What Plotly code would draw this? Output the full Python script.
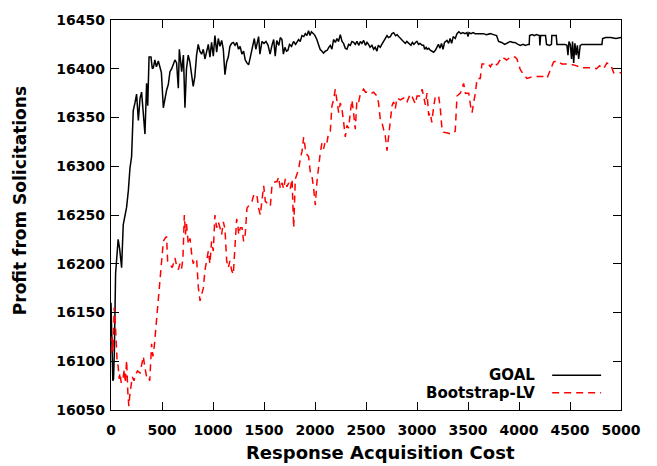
import plotly.graph_objects as go

# GOAL curve: profit vs. response acquisition cost
goal_cost = [0, 10, 18, 25, 33, 45, 59, 70, 85, 104, 120, 140, 153, 170, 186, 202, 218, 235, 251, 268,
             285, 300, 318, 333, 349, 360, 373, 392, 405, 415, 430, 445, 464, 480, 494, 513, 530, 545, 562, 578,
             595, 611, 627, 643, 660, 670, 685, 693, 710, 725, 740, 757, 773, 790, 806, 822, 839, 855, 871, 888,
             905, 921, 937, 954, 970, 986, 1003, 1019, 1036, 1052, 1068, 1085, 1101, 1117, 1134, 1150, 1166, 1183, 1199, 1216,
             1233, 1250, 1266, 1283, 1300, 1316, 1333, 1349, 1366, 1382, 1405, 1420, 1435, 1447, 1460, 1480, 1500, 1520, 1540, 1560,
             1578, 1595, 1610, 1625, 1645, 1660, 1676, 1690, 1705, 1720, 1735, 1750, 1770, 1790, 1810, 1839, 1855, 1872, 1890, 1905,
             1920, 1937, 1950, 1965, 1985, 2000, 2018, 2035, 2050, 2068, 2084, 2100, 2120, 2135, 2150, 2166, 2182, 2200, 2215, 2230,
             2248, 2265, 2280, 2297, 2313, 2330, 2346, 2362, 2379, 2395, 2411, 2430, 2445, 2460, 2477, 2495, 2510, 2525, 2540, 2558,
             2575, 2590, 2607, 2620, 2640, 2655, 2672, 2690, 2706, 2720, 2738, 2755, 2771, 2790, 2805, 2820, 2840, 2855, 2869, 2885,
             2900, 2920, 2940, 2955, 2970, 2985, 2999, 3015, 3030, 3050, 3065, 3075, 3090, 3100, 3115, 3130, 3145, 3163, 3180, 3195,
             3210, 3225, 3240, 3255, 3270, 3294, 3310, 3325, 3340, 3355, 3375, 3392, 3410, 3430, 3450, 3470, 3490, 3500, 3510, 3530,
             3550, 3570, 3600, 3621, 3650, 3680, 3719, 3750, 3780, 3800, 3830, 3860, 3880, 3915, 3940, 3960, 3990, 4013, 4040, 4062,
             4090, 4100, 4104, 4130, 4150, 4170, 4200, 4205, 4212, 4240, 4260, 4270, 4300, 4318, 4322, 4345, 4365, 4372, 4400, 4430,
             4450, 4470, 4480, 4490, 4503, 4515, 4525, 4536, 4548, 4560, 4572, 4585, 4600, 4617, 4650, 4700, 4750, 4790, 4813, 4820,
             4850, 4900, 4950, 5000]
goal_profit = [16160, 16120, 16080, 16082, 16110, 16190, 16210, 16225, 16215, 16196, 16240, 16252, 16258, 16275, 16298, 16310, 16357, 16365, 16374, 16347,
               16370, 16376, 16350, 16333, 16385, 16362, 16412, 16412, 16400, 16401, 16409, 16402, 16408, 16400, 16396, 16360, 16372, 16378, 16384, 16397,
               16400, 16404, 16409, 16406, 16380, 16420, 16405, 16397, 16414, 16360, 16400, 16414, 16407, 16392, 16382, 16392, 16414, 16425, 16418, 16415,
               16420, 16410, 16418, 16425, 16412, 16427, 16413, 16434, 16417, 16431, 16423, 16429, 16420, 16394, 16407, 16412, 16423, 16426, 16427, 16424,
               16427, 16420, 16423, 16415, 16418, 16409, 16406, 16404, 16412, 16420, 16431, 16420, 16428, 16433, 16415, 16428, 16426, 16428, 16424, 16415,
               16424, 16430, 16413, 16429, 16424, 16432, 16430, 16415, 16422, 16418, 16419, 16425, 16423, 16428, 16425, 16430, 16428, 16434, 16433, 16436,
               16434, 16439, 16434, 16438, 16436, 16434, 16430, 16425, 16420, 16418, 16416, 16418, 16419, 16422, 16424, 16420, 16430, 16427, 16431, 16428,
               16435, 16428, 16426, 16421, 16420, 16425, 16424, 16428, 16427, 16425, 16428, 16424, 16428, 16426, 16429, 16424, 16427, 16425, 16422, 16424,
               16420, 16422, 16418, 16424, 16422, 16425, 16428, 16430, 16434, 16432, 16433, 16436, 16437, 16434, 16435, 16433, 16431, 16430, 16428, 16426,
               16428, 16426, 16424, 16427, 16425, 16427, 16428, 16425, 16426, 16424, 16424, 16420, 16422, 16420, 16421, 16419, 16418, 16417, 16419, 16422,
               16425, 16421, 16426, 16420, 16427, 16429, 16426, 16431, 16426, 16433, 16431, 16436, 16438, 16436, 16437, 16436, 16437, 16433, 16437, 16436,
               16437, 16436, 16436, 16436, 16436, 16435, 16436, 16435, 16434, 16428, 16427, 16425, 16426, 16428, 16427, 16427, 16425, 16424, 16425, 16424,
               16425, 16425, 16434, 16435, 16434, 16435, 16434, 16424, 16434, 16434, 16434, 16425, 16424, 16425, 16434, 16434, 16434, 16425, 16425, 16425,
               16425, 16424, 16414, 16428, 16425, 16410, 16428, 16406, 16426, 16414, 16424, 16410, 16424, 16425, 16425, 16425, 16425, 16425, 16425, 16431,
               16432, 16432, 16431, 16432]

# Bootstrap-LV curve
boot_cost = [0, 10, 20, 32, 42, 50, 60, 70, 80, 88, 100, 115, 130, 140, 153, 165, 175, 185, 195, 209,
             225, 240, 260, 284, 300, 317, 330, 349, 365, 380, 398, 410, 425, 447, 464, 480, 496, 513, 529, 545,
             555, 578, 600, 612, 627, 643, 660, 676, 692, 705, 719, 730, 740, 758, 775, 791, 806, 822, 840, 856,
             873, 890, 905, 921, 937, 954, 970, 986, 1003, 1019, 1036, 1052, 1068, 1085, 1101, 1117, 1134, 1150, 1166, 1183,
             1199, 1215, 1232, 1245, 1252, 1268, 1285, 1300, 1316, 1333, 1349, 1366, 1382, 1398, 1415, 1431, 1447, 1464, 1480, 1497,
             1513, 1530, 1546, 1562, 1578, 1595, 1611, 1627, 1643, 1660, 1676, 1693, 1709, 1725, 1742, 1758, 1775, 1791, 1807, 1823,
             1840, 1856, 1872, 1889, 1905, 1921, 1937, 1954, 1970, 1987, 2003, 2020, 2036, 2052, 2068, 2085, 2101, 2117, 2134, 2150,
             2166, 2182, 2199, 2215, 2232, 2248, 2265, 2281, 2297, 2313, 2330, 2346, 2362, 2378, 2395, 2411, 2428, 2444, 2460, 2477,
             2495, 2510, 2542, 2575, 2607, 2623, 2640, 2656, 2672, 2689, 2706, 2722, 2738, 2755, 2771, 2787, 2804, 2836, 2869, 2885,
             2902, 2934, 2950, 2967, 2983, 3000, 3033, 3050, 3066, 3082, 3098, 3115, 3130, 3145, 3162, 3180, 3212, 3228, 3245, 3257,
             3300, 3340, 3375, 3392, 3425, 3457, 3475, 3507, 3525, 3540, 3555, 3572, 3589, 3620, 3637, 3670, 3700, 3720, 3735, 3750,
             3790, 3833, 3880, 3915, 3960, 3980, 4013, 4045, 4078, 4140, 4209, 4240, 4274, 4310, 4339, 4370, 4420, 4487, 4530, 4568,
             4600, 4634, 4700, 4760, 4790, 4830, 4862, 4900, 4928, 5000]
boot_profit = [16108, 16125, 16110, 16155, 16140, 16110, 16100, 16095, 16082, 16088, 16078, 16080, 16092, 16078, 16101, 16068, 16054, 16066, 16075, 16084,
               16080, 16086, 16090, 16088, 16096, 16105, 16095, 16084, 16085, 16080, 16118, 16105, 16116, 16145, 16162, 16183, 16203, 16223, 16226, 16228,
               16203, 16199, 16196, 16200, 16206, 16198, 16194, 16200, 16195, 16205, 16250, 16230, 16241, 16220, 16226, 16210, 16200, 16205, 16204, 16176,
               16162, 16169, 16175, 16193, 16205, 16213, 16200, 16223, 16213, 16250, 16237, 16243, 16237, 16230, 16243, 16236, 16203, 16196, 16203, 16193,
               16189, 16216, 16246, 16238, 16230, 16237, 16237, 16223, 16230, 16257, 16260, 16262, 16264, 16270, 16268, 16270, 16257, 16250, 16265, 16280,
               16264, 16262, 16260, 16259, 16280, 16283, 16284, 16284, 16289, 16277, 16283, 16277, 16287, 16279, 16283, 16277, 16287, 16237, 16287, 16291,
               16297, 16308, 16315, 16330, 16318, 16312, 16310, 16294, 16290, 16277, 16260, 16285, 16303, 16314, 16324, 16318, 16326, 16324, 16335, 16336,
               16362, 16368, 16379, 16368, 16355, 16365, 16358, 16345, 16330, 16342, 16339, 16355, 16368, 16355, 16338, 16368, 16366, 16374, 16376, 16379,
               16376, 16376, 16374, 16376, 16372, 16365, 16348, 16345, 16338, 16331, 16316, 16330, 16345, 16362, 16366, 16359, 16370, 16368, 16370, 16366,
               16366, 16374, 16372, 16368, 16364, 16372, 16372, 16379, 16370, 16363, 16375, 16352, 16355, 16345, 16360, 16372, 16372, 16360, 16338, 16335,
               16334, 16333, 16336, 16372, 16375, 16385, 16375, 16375, 16362, 16355, 16365, 16375, 16390, 16390, 16405, 16405, 16405, 16402, 16405, 16402,
               16405, 16412, 16409, 16412, 16412, 16410, 16399, 16394, 16390, 16392, 16392, 16392, 16390, 16400, 16407, 16408, 16405, 16405, 16404, 16403,
               16401, 16401, 16401, 16400, 16403, 16400, 16406, 16404, 16396, 16396]

x_ticks = [0, 500, 1000, 1500, 2000, 2500, 3000, 3500, 4000, 4500, 5000]
y_ticks = [16050, 16100, 16150, 16200, 16250, 16300, 16350, 16400, 16450]

FONT = "DejaVu Sans"


def bold(size):
    return dict(family=FONT, size=size, color="black", weight="bold")


fig = go.Figure()
fig.add_trace(go.Scatter(x=goal_cost, y=goal_profit, mode="lines", name="GOAL",
                         line=dict(color="black", width=1.5)))
fig.add_trace(go.Scatter(x=boot_cost, y=boot_profit, mode="lines", name="Bootstrap-LV",
                         line=dict(color="#ff0000", width=1.5, dash="7px,5px")))

axis_common = dict(showgrid=False, zeroline=False, showline=True, linecolor="black", linewidth=1.3,
                   mirror="ticks", ticks="inside", ticklen=8, tickwidth=1.3, tickcolor="black",
                   tickformat="d", tickfont=bold(14))

fig.update_xaxes(range=[0, 5000], tickvals=x_ticks, ticklabelstandoff=7, **axis_common)
fig.update_yaxes(range=[16050, 16450], tickvals=y_ticks, ticklabelstandoff=2, **axis_common)

# axis titles
annotations = [
    dict(text="Response Acquisition Cost", x=0.529, y=-0.109, xref="paper", yref="paper",
         showarrow=False, font=bold(18), xanchor="center", yanchor="middle"),
    dict(text="Profit from Solicitations", x=-0.178, y=0.536, xref="paper", yref="paper",
         showarrow=False, font=bold(17), textangle=-90, xanchor="center", yanchor="middle"),
]
# key: labels on the left, line samples on the right
key_rows = [("GOAL", 0.0888, dict(color="black", width=1.5)),
            ("Bootstrap-LV", 0.0444, dict(color="#ff0000", width=1.5, dash="7px,5px"))]
shapes = []
for label, ky, style in key_rows:
    annotations.append(dict(text=label, x=0.835, y=ky, xref="paper", yref="paper", showarrow=False,
                            font=bold(15), xanchor="right", yanchor="middle"))
    shapes.append(dict(type="line", xref="paper", yref="paper", x0=0.865, x1=0.961, y0=ky, y1=ky,
                       line=style))

fig.update_layout(width=657, height=466, showlegend=False,
                  margin=dict(l=111, r=36, t=16, b=56),
                  plot_bgcolor="white", paper_bgcolor="white",
                  annotations=annotations, shapes=shapes)

fig.write_html("out.html")
